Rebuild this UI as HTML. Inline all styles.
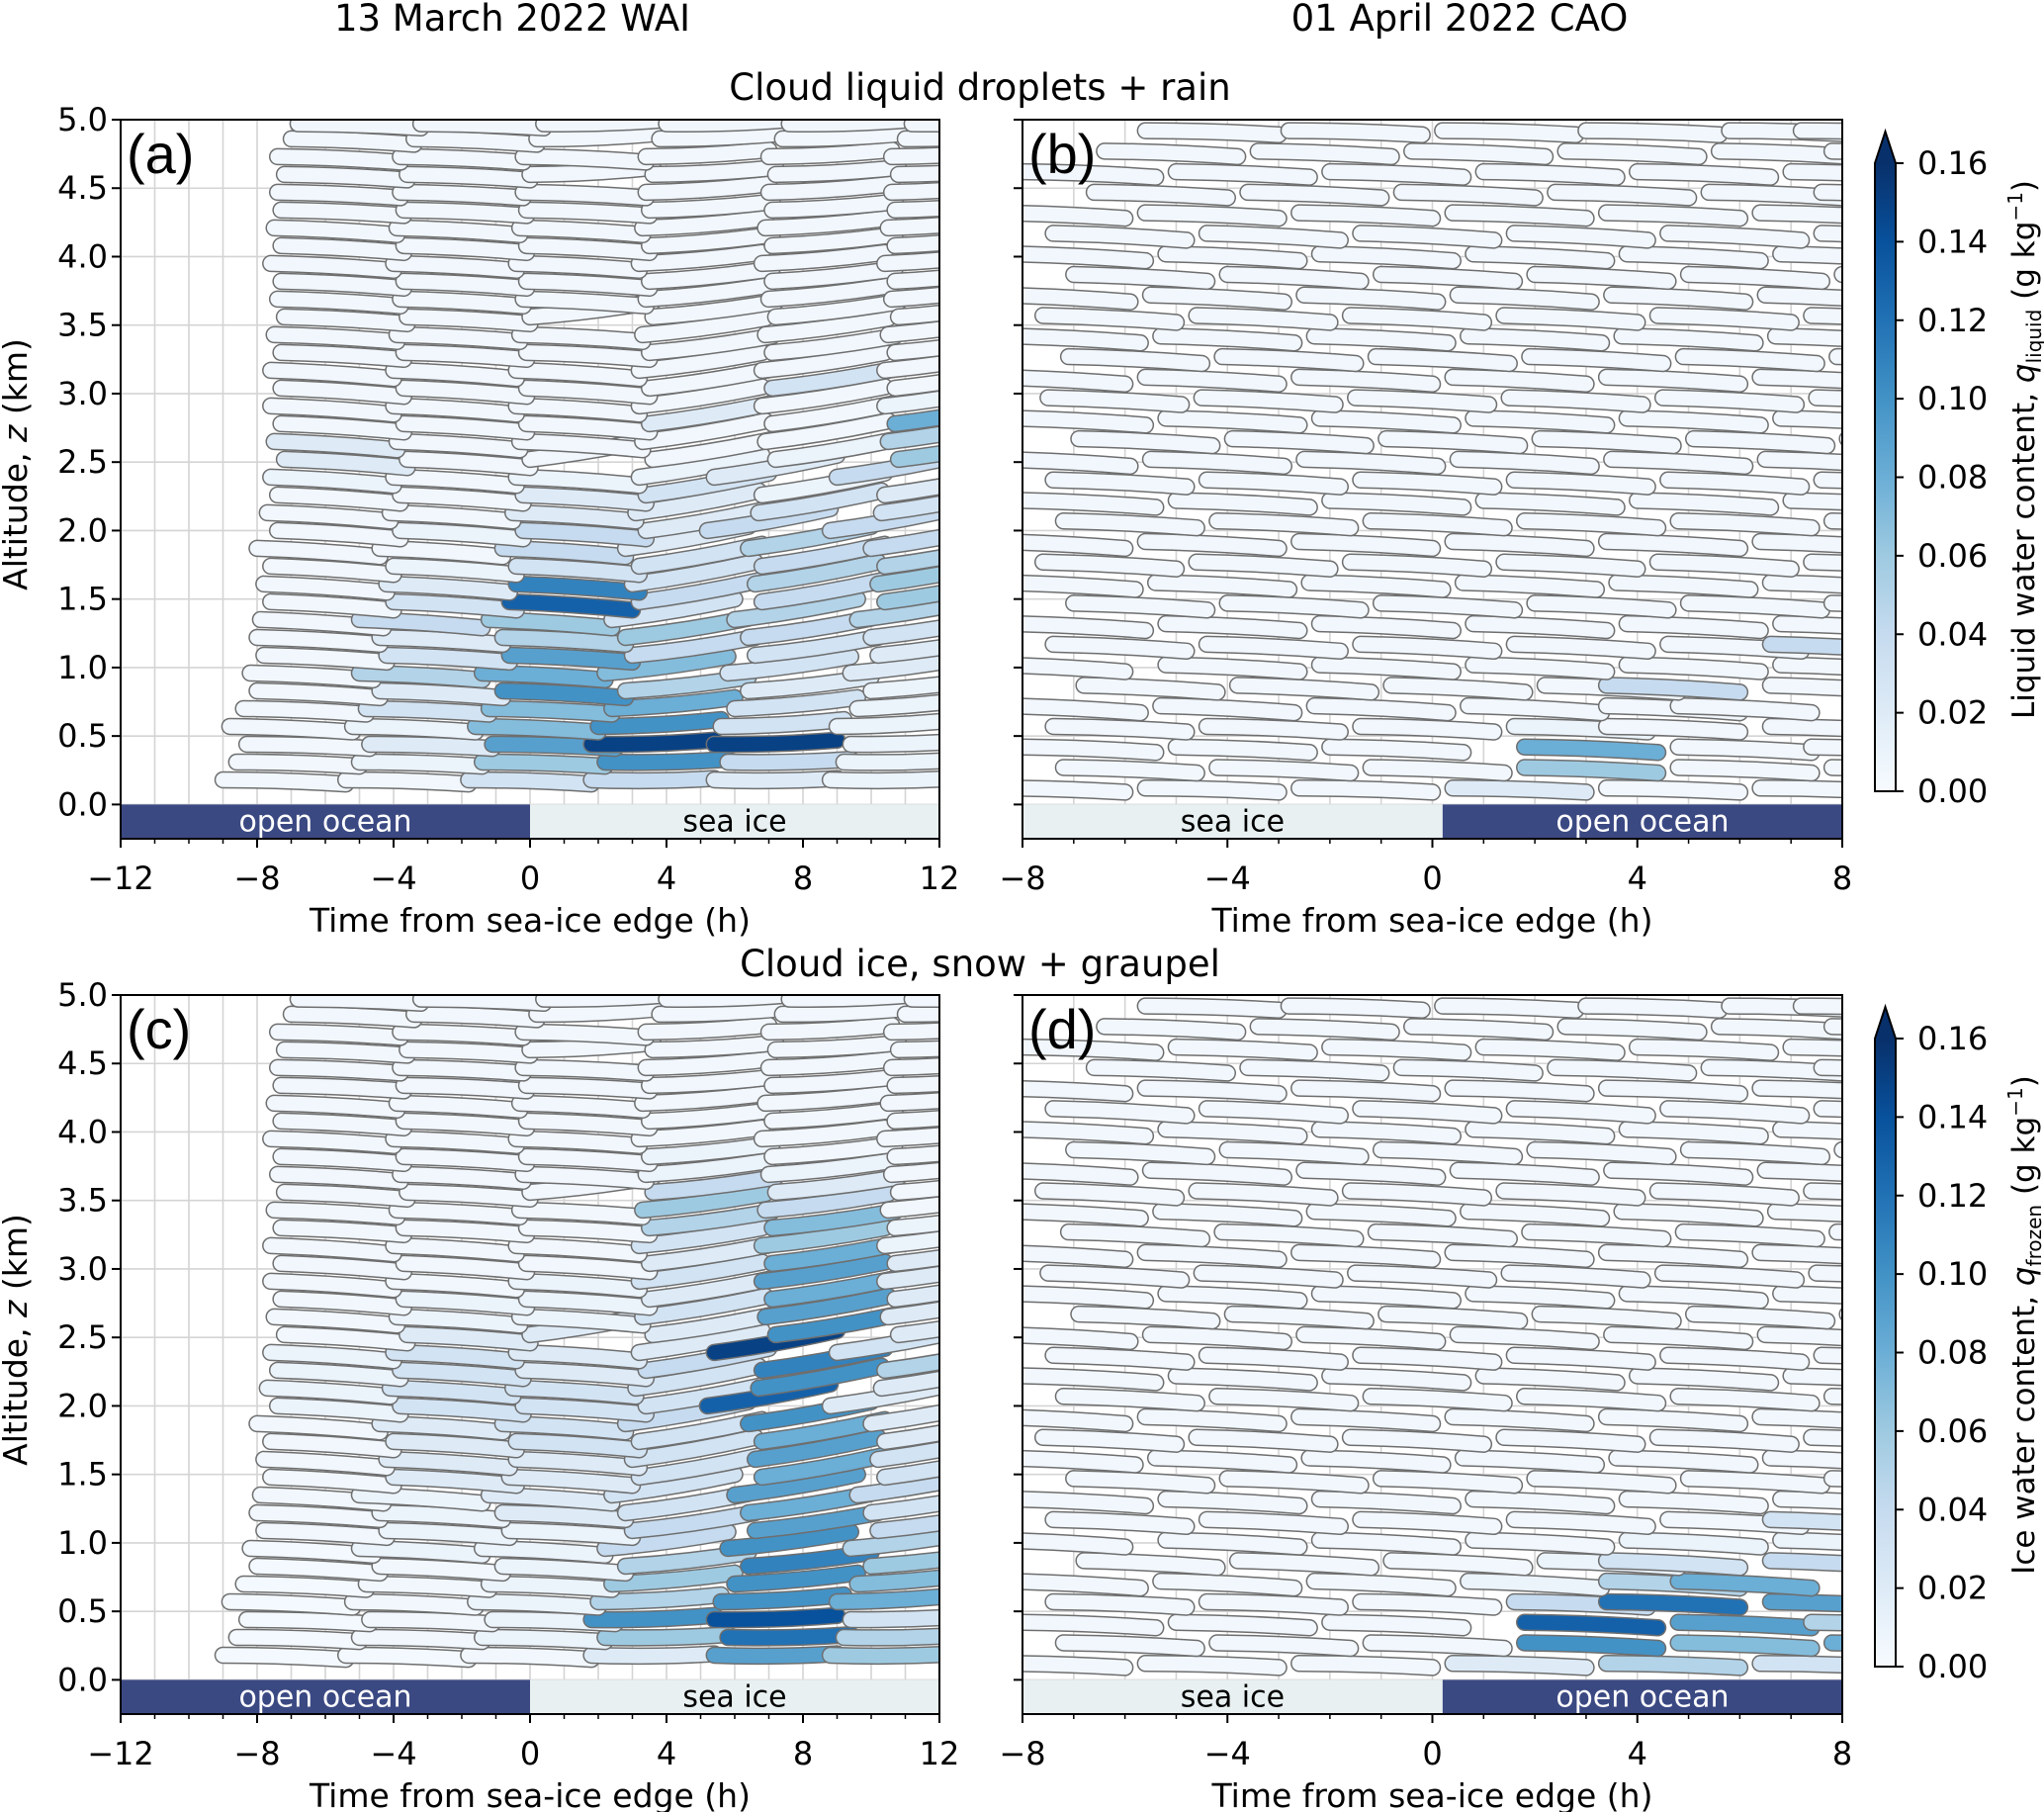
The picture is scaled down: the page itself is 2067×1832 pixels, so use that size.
<!DOCTYPE html>
<html><head><meta charset="utf-8">
<style>
html,body{margin:0;padding:0;background:#fff}
svg{display:block}
text{font-family:"DejaVu Sans","Liberation Sans",sans-serif;fill:#000}
</style></head>
<body>
<svg id="fig" width="2067" height="1832" viewBox="0 0 2067 1832" xmlns="http://www.w3.org/2000/svg">
<defs>
<linearGradient id="blues" x1="0" y1="1" x2="0" y2="0">
<stop offset="0" stop-color="#f7fbff"/><stop offset="0.125" stop-color="#deebf7"/><stop offset="0.25" stop-color="#c6dbef"/><stop offset="0.375" stop-color="#9ecae1"/><stop offset="0.5" stop-color="#6baed6"/><stop offset="0.625" stop-color="#4292c6"/><stop offset="0.75" stop-color="#2171b5"/><stop offset="0.875" stop-color="#08519c"/><stop offset="1" stop-color="#08306b"/>
</linearGradient>
</defs>
<text x="518" y="31" font-size="37" text-anchor="middle">13 March 2022 WAI</text>
<text x="1476" y="31" font-size="37" text-anchor="middle">01 April 2022 CAO</text>
<text x="991" y="101" font-size="37" text-anchor="middle">Cloud liquid droplets + rain</text>
<text x="991" y="987" font-size="37" text-anchor="middle">Cloud ice, snow + graupel</text>
<g id="panels"></g>
</svg>
<script>
// ---- WAI case (13 March 2022) trajectories: row altitudes (km), start times (h), values (g/kg)
const wRowZ = [0.18,0.31,0.44,0.57,0.70,0.83,0.96,1.09,1.22,1.35,1.48,1.61,1.74,1.87,2.00,2.13,2.26,2.39,2.52,2.65,2.78,2.91,3.04,3.17,3.30,3.43,3.56,3.69,3.82,3.95,4.08,4.21,4.34,4.47,4.60,4.73,4.86,4.97];
const wRowT = [
[-9.0,-5.4,-1.8,1.8,5.4,8.8],[-8.6,-5.0,-1.4,2.2,5.8,9.2],[-8.3,-4.7,-1.1,1.8,5.4,9.4],[-8.8,-5.2,-1.6,2.0,5.6,9.0],
[-8.4,-4.8,-1.2,2.4,6.0,9.6],[-8.0,-4.4,-0.8,2.8,6.4,10.0],[-8.2,-5.0,-1.4,2.2,5.8,9.4],[-7.8,-4.2,-0.6,3.0,6.6,10.2],
[-8.0,-4.4,-0.8,2.8,6.4,10.0],[-7.9,-5.0,-1.2,2.4,6.0,9.6],[-7.6,-4.0,-0.6,3.2,6.8,10.4],[-7.8,-4.2,-0.4,3.0,6.6,10.2],
[-7.6,-4.0,-0.4,3.2,6.8,10.4],[-8.0,-4.4,-0.8,2.8,6.4,10.0],[-7.4,-3.8,-0.2,3.4,5.2,8.8],[-7.7,-4.1,-0.5,3.1,6.7,10.3],
[-7.4,-3.8,-0.2,3.4,6.8,10.4],[-7.6,-4.0,-0.4,3.2,5.4,9.0],[-7.2,-3.6,0.0,3.6,7.2,10.8],[-7.5,-3.9,-0.3,3.3,6.9,10.5],
[-7.3,-3.7,-0.1,3.5,7.1,10.7],[-7.6,-4.0,-0.4,3.2,6.8,10.4],[-7.3,-3.7,-0.1,3.5,7.1,10.7],[-7.6,-4.0,-0.4,3.2,6.8,10.4],
[-7.3,-3.7,-0.1,3.5,7.1,10.7],[-7.5,-3.9,-0.3,3.3,6.9,10.5],[-7.2,-3.6,0.0,3.6,7.2,10.8],[-7.4,-3.8,-0.2,3.4,7.0,10.6],
[-7.3,-3.7,-0.1,3.5,7.1,10.7],[-7.6,-4.0,-0.4,3.2,6.8,10.4],[-7.3,-3.7,-0.1,3.5,7.1,10.7],[-7.5,-3.9,-0.3,3.3,6.9,10.5],
[-7.3,-3.7,-0.1,3.5,7.1,10.7],[-7.4,-3.8,-0.2,3.4,7.0,10.6],[-7.2,-3.6,0.0,3.6,7.2,10.8],[-7.4,-3.8,-0.2,3.4,7.0,10.6],
[-7.0,-3.4,0.2,3.8,7.4,11.0],[-6.8,-3.2,0.4,4.0,7.6,11.2]];
const wRowLiq = [
[.005,.005,.03,.04,.02,.01],[.005,.01,.06,.10,.04,.01],[.005,.02,.09,.15,.15,.01],[.005,.01,.07,.10,.03,.01],
[.005,.03,.07,.08,.03,.01],[.005,.02,.10,.05,.02,.01],[.005,.05,.08,.07,.03,.02],[.005,.03,.09,.04,.03,.02],
[.005,.02,.05,.06,.04,.03],[.005,.04,.06,.03,.05,.05],[.005,.03,.13,.04,.04,.06],[.005,.02,.11,.03,.05,.06],
[.005,.01,.03,.03,.04,.05],[.005,.005,.04,.02,.05,.04],[.005,.01,.04,.02,.04,.04],[.005,.005,.02,.02,.03,.03],
[.005,.005,.02,.03,.01,.02],[.01,.005,.01,.01,.02,.04],[.02,.005,.005,.005,.01,.06],[.02,.005,.005,.005,.005,.05],
[.005,.005,.005,.02,.005,.08],[.005,.005,.005,.005,.005,.01],[.005,.005,.005,.005,.03,.005],[.005,.005,.005,.005,.005,.005],
[.005,.005,.005,.005,.005,.005],[.005,.005,.005,.005,.005,.005],[.005,.005,.005,.005,.005,.005],[.005,.005,.005,.005,.005,.005],
[.005,.005,.005,.005,.005,.005],[.005,.005,.005,.005,.005,.005],[.005,.005,.005,.005,.005,.005],[.005,.005,.005,.005,.005,.005],
[.005,.005,.005,.005,.005,.005],[.005,.005,.005,.005,.005,.005],[.005,.005,.005,.005,.005,.005],[.005,.005,.005,.005,.005,.005],
[.005,.005,.005,.005,.005,.005],[.005,.005,.005,.005,.005,.005]];
const wRowIce = [
[.003,.003,.005,.02,.09,.06],[.003,.005,.01,.06,.12,.05],[.003,.005,.01,.10,.14,.03],[.003,.005,.01,.05,.10,.08],
[.003,.005,.01,.06,.10,.07],[.003,.005,.01,.05,.11,.06],[.003,.01,.01,.04,.10,.05],[.005,.01,.01,.04,.09,.04],
[.005,.01,.02,.03,.08,.03],[.005,.01,.02,.03,.09,.04],[.005,.02,.02,.03,.08,.03],[.005,.02,.02,.03,.09,.03],
[.005,.02,.03,.03,.08,.02],[.005,.02,.03,.04,.10,.02],[.01,.03,.03,.03,.13,.02],[.01,.03,.03,.03,.10,.02],
[.01,.03,.02,.04,.11,.05],[.01,.03,.02,.02,.15,.03],[.005,.02,.02,.02,.10,.02],[.005,.01,.01,.03,.09,.02],
[.005,.01,.01,.02,.08,.02],[.005,.005,.01,.03,.09,.02],[.005,.005,.005,.02,.08,.02],[.005,.005,.005,.03,.06,.01],
[.005,.005,.005,.05,.07,.01],[.005,.005,.005,.06,.04,.005],[.005,.005,.005,.04,.02,.005],[.005,.005,.005,.01,.01,.005],
[.005,.005,.005,.01,.005,.005],[.005,.005,.005,.005,.005,.005],[.005,.005,.005,.005,.005,.005],[.005,.005,.005,.005,.005,.005],
[.005,.005,.005,.005,.005,.005],[.005,.005,.005,.005,.005,.005],[.005,.005,.005,.005,.005,.005],[.005,.005,.005,.005,.005,.005],
[.005,.005,.005,.005,.005,.005],[.005,.005,.005,.005,.005,.005]];
const wRowDzLeft = [-.03,-.03,-.03,-.04,-.04,-.05,-.05,-.05,-.05,-.06,-.06,-.06,-.06,-.06,-.06,-.06,-.06,-.06,-.06,-.06,-.06,-.06,-.06,-.06,-.05,-.05,-.05,-.05,-.05,-.05,-.05,-.05,-.04,-.04,-.04,-.04,-.04,-.03];
const wRowDzRight = [.01,.02,.03,.05,.08,.10,.12,.13,.14,.15,.16,.16,.16,.16,.16,.16,.16,.16,.15,.15,.15,.14,.14,.13,.12,.12,.11,.10,.09,.08,.08,.07,.06,.06,.05,.05,.04,.03];
const wDur = 3.6;

// ---- CAO case (01 April 2022)
const cRowZ = [0.12,0.27,0.42,0.57,0.72,0.87,1.02,1.17,1.32,1.47,1.62,1.77,1.92,2.07,2.22,2.37,2.52,2.67,2.82,2.97,3.12,3.27,3.42,3.57,3.72,3.87,4.02,4.17,4.32,4.47,4.62,4.77,4.92];
const cRowT = [
[-8.6,-5.6,-2.6,0.4,3.4,6.4],[-7.2,-4.2,-1.2,1.8,4.8,7.8],[-8.0,-5.0,-2.0,1.8,4.8,7.4],[-7.4,-4.4,-1.4,1.6,3.4,6.6],
[-8.3,-5.3,-2.3,0.7,3.4,4.8],[-6.8,-3.8,-0.8,2.2,3.4,6.6],[-8.6,-5.2,-2.2,0.8,3.8,6.8],[-7.4,-4.4,-1.4,1.6,4.6,6.6],
[-8.2,-5.2,-2.2,0.8,3.8,6.8],[-7.0,-4.0,-1.0,2.0,5.0,7.8],[-8.4,-5.4,-2.4,0.6,3.6,6.6],[-7.6,-4.6,-1.6,1.4,4.4,7.4],
[-8.6,-5.6,-2.6,0.4,3.4,6.4],[-7.2,-4.2,-1.2,1.8,4.8,7.8],[-8.0,-5.0,-2.0,1.0,4.0,7.0],[-7.4,-4.4,-1.4,1.6,4.6,7.6],
[-8.5,-5.5,-2.5,0.5,3.5,6.5],[-6.9,-3.9,-0.9,2.1,5.1,8.1],[-8.2,-5.2,-2.2,0.8,3.8,6.8],[-7.5,-4.5,-1.5,1.5,4.5,7.5],
[-8.6,-5.6,-2.6,0.4,3.4,6.4],[-7.1,-4.1,-1.1,1.9,4.9,7.9],[-8.3,-5.3,-2.3,0.7,3.7,6.7],[-7.6,-4.6,-1.6,1.4,4.4,7.4],
[-8.5,-5.5,-2.5,0.5,3.5,6.5],[-7.0,-4.0,-1.0,2.0,5.0,8.0],[-8.2,-5.2,-2.2,0.8,3.8,6.8],[-7.4,-4.4,-1.4,1.6,4.6,7.6],
[-8.6,-5.6,-2.6,0.4,3.4,6.4],[-6.6,-3.6,-0.6,2.4,5.4,7.6],[-8.0,-5.0,-2.0,1.0,4.0,7.0],[-6.4,-3.4,-0.4,2.6,5.6,7.8],
[-5.6,-2.8,0.2,3.0,5.8,7.2]];
const cRowLiq = [
[.005,.005,.005,.02,.005,.005],[.005,.005,.005,.06,.005,.005],[.005,.005,.005,.08,.005,.005],[.005,.005,.005,.01,.005,.005],
[.005,.005,.005,.005,.005,.005],[.005,.005,.005,.005,.04,.005],[.005,.005,.005,.005,.005,.005],[.005,.005,.005,.005,.005,.04],
[.005,.005,.005,.005,.005,.005],[.005,.005,.005,.005,.005,.005],[.005,.005,.005,.005,.005,.005],[.005,.005,.005,.005,.005,.005],
[.005,.005,.005,.005,.005,.005],[.005,.005,.005,.005,.005,.005],[.005,.005,.005,.005,.005,.005],[.005,.005,.005,.005,.005,.005],
[.005,.005,.005,.005,.005,.005],[.005,.005,.005,.005,.005,.005],[.005,.005,.005,.005,.005,.005],[.005,.005,.005,.005,.005,.005],
[.005,.005,.005,.005,.005,.005],[.005,.005,.005,.005,.005,.005],[.005,.005,.005,.005,.005,.005],[.005,.005,.005,.005,.005,.005],
[.005,.005,.005,.005,.005,.005],[.005,.005,.005,.005,.005,.005],[.005,.005,.005,.005,.005,.005],[.005,.005,.005,.005,.005,.005],
[.005,.005,.005,.005,.005,.005],[.005,.005,.005,.005,.005,.005],[.005,.005,.005,.005,.005,.005],[.005,.005,.005,.005,.005,.005],
[.005,.005,.005,.005,.005,.005]];
const cRowIce = [
[.005,.005,.005,.02,.05,.03],[.005,.005,.005,.10,.07,.08],[.005,.005,.005,.13,.09,.05],[.005,.005,.005,.04,.12,.09],
[.005,.005,.005,.01,.05,.08],[.005,.005,.005,.01,.03,.04],[.005,.005,.005,.005,.01,.01],[.005,.005,.005,.005,.005,.03],
[.005,.005,.005,.005,.005,.005],[.005,.005,.005,.005,.005,.005],[.005,.005,.005,.005,.005,.005],[.005,.005,.005,.005,.005,.005],
[.005,.005,.005,.005,.005,.005],[.005,.005,.005,.005,.005,.005],[.005,.005,.005,.005,.005,.005],[.005,.005,.005,.005,.005,.005],
[.005,.005,.005,.005,.005,.005],[.005,.005,.005,.005,.005,.005],[.005,.005,.005,.005,.005,.005],[.005,.005,.005,.005,.005,.005],
[.005,.005,.005,.005,.005,.005],[.005,.005,.005,.005,.005,.005],[.005,.005,.005,.005,.005,.005],[.005,.005,.005,.005,.005,.005],
[.005,.005,.005,.005,.005,.005],[.005,.005,.005,.005,.005,.005],[.005,.005,.005,.005,.005,.005],[.005,.005,.005,.005,.005,.005],
[.005,.005,.005,.005,.005,.005],[.005,.005,.005,.005,.005,.005],[.005,.005,.005,.005,.005,.005],[.005,.005,.005,.005,.005,.005],
[.005,.005,.005,.005,.005,.005]];
const cRowDz = [-.03,-.04,-.04,-.04,-.05,-.05,-.05,-.05,-.05,-.05,-.05,-.05,-.05,-.05,-.05,-.05,-.05,-.05,-.05,-.05,-.05,-.05,-.05,-.05,-.05,-.05,-.05,-.05,-.04,-.04,-.04,-.04,-.03];
const cDur = 2.6;

const xTicksWAI = [-12,-8,-4,0,4,8,12];
const xTicksCAO = [-8,-4,0,4,8];
const yTicks = [0.0,0.5,1.0,1.5,2.0,2.5,3.0,3.5,4.0,4.5,5.0];
const cbTicks = [0.00,0.02,0.04,0.06,0.08,0.10,0.12,0.14,0.16];

const NS = "http://www.w3.org/2000/svg";
const blues = ["#f7fbff","#deebf7","#c6dbef","#9ecae1","#6baed6","#4292c6","#2171b5","#08519c","#08306b"];
function hex(c){return [parseInt(c.substr(1,2),16),parseInt(c.substr(3,2),16),parseInt(c.substr(5,2),16)];}
function cmap(v){
  let f=Math.max(0,Math.min(1,v/0.16))*8; let i=Math.min(7,Math.floor(f)); let r=f-i;
  const a=hex(blues[i]),b=hex(blues[i+1]);
  return "rgb("+a.map((x,k)=>Math.round(x+(b[k]-x)*r)).join(",")+")";
}
function el(tag,attrs,parent){const e=document.createElementNS(NS,tag);for(const k in attrs)e.setAttribute(k,attrs[k]);parent.appendChild(e);return e;}
const root=document.getElementById('panels');

function panel(o){
  const g=el('g',{},root);
  
  
  const L=o.x0,R=o.x1,T=o.top,B=o.top+727;
  const sx=t=>L+(t-o.tmin)/(o.tmax-o.tmin)*(R-L);
  const sy=z=>T+(5.0-z)/5.25*(B-T);
  const grid=el('g',{stroke:'#d4d4d4','stroke-width':1.6},g);
  
  
  for(let t=Math.ceil(o.tmin);t<=o.tmax;t++){el('line',{x1:sx(t),x2:sx(t),y1:T,y2:B},grid);}
  yTicks.forEach(z=>el('line',{x1:L,x2:R,y1:sy(z),y2:sy(z)},grid));
  const cid='clip-'+o.name;
  const cp=el('clipPath',{id:cid},g); el('rect',{x:L,y:T,width:R-L,height:B-T},cp);
  const tr=el('g',{'clip-path':'url(#'+cid+')'},g);
  
  
  o.rowZ.forEach((z,ri)=>{
    o.rowT[ri].forEach((t0,si)=>{
      const dz=o.dz(ri,t0);
      const x1=sx(t0),y1=sy(z),x2=sx(t0+o.dur),y2=sy(z+dz);
      const mx=(x1+x2)/2,my=(y1+y2)/2+ (dz>0?3:-2);
      const d='M'+x1+','+y1+' Q'+mx+','+my+' '+x2+','+y2;
      const seg=el('g',{},tr);
      
      
      el('path',{d:d,fill:'none',stroke:'#6e6e6e','stroke-width':17.5,'stroke-linecap':'round'},seg);
      el('path',{d:d,fill:'none',stroke:cmap(o.vals[ri][si]),'stroke-width':14.5,'stroke-linecap':'round'},seg);
    });
  });
  const y0=sy(0);
  const split=sx(o.split);
  const b1=el('rect',{x:L,y:y0,width:split-L,height:B-y0,fill:o.leftOcean?'#3b4983':'#e9f0f1'},g);
  
  
  const b2=el('rect',{x:split,y:y0,width:R-split,height:B-y0,fill:o.leftOcean?'#e9f0f1':'#3b4983'},g);
  
  
  const t1=el('text',{x:(L+split)/2,y:y0+27,'font-size':30,'text-anchor':'middle',style:'fill:'+(o.leftOcean?'#fff':'#000')},g);
  t1.textContent=o.leftOcean?'open ocean':'sea ice';
  
  
  const t2=el('text',{x:(split+R)/2,y:y0+27,'font-size':30,'text-anchor':'middle',style:'fill:'+(o.leftOcean?'#000':'#fff')},g);
  t2.textContent=o.leftOcean?'sea ice':'open ocean';
  
  
  const fr=el('rect',{x:L,y:T,width:R-L,height:B-T,fill:'none',stroke:'#000','stroke-width':2},g);
  
  
  for(let t=Math.ceil(o.tmin);t<=o.tmax;t++){
    const major=o.xticks.indexOf(t)>=0;
    el('line',{x1:sx(t),x2:sx(t),y1:B,y2:B+(major?9:5),stroke:'#000','stroke-width':major?2:1.5},g);
  }
  o.xticks.forEach(t=>{
    const tx=el('text',{x:sx(t),y:B+51,'font-size':32,'text-anchor':'middle'},g);
    tx.textContent=(t<0?'\u2212'+(-t):String(t));
    
    
  });
  const xl=el('text',{x:(L+R)/2,y:B+94,'font-size':33,'text-anchor':'middle'},g);
  xl.textContent='Time from sea-ice edge (h)';
  
  
  yTicks.forEach(z=>{
    el('line',{x1:L-9,x2:L,y1:sy(z),y2:sy(z),stroke:'#000','stroke-width':2},g);
    if(o.ylabels){
      const ty=el('text',{x:L-13,y:sy(z)+11,'font-size':32,'text-anchor':'end'},g);
      ty.textContent=z.toFixed(1);
      
      
    }
  });
  if(o.ylabels){
    const yl=el('text',{x:0,y:0,'font-size':33,'text-anchor':'middle',transform:'translate(27,'+((T+B)/2-15)+') rotate(-90)'},g);
    yl.innerHTML='Altitude, <tspan font-style="italic">z</tspan> (km)';
    
    
  }
  const pl=el('text',{x:L+6,y:T+54,'font-size':56,style:'font-family:"Liberation Sans",sans-serif'},g);
  pl.textContent=o.label;
  
  
}

function colorbar(top,lab,sub){
  const g=el('g',{},root);
  
  
  const X=1896,W=21,T=top,B=top+635;
  const cy=v=>B-(v/0.16)*(B-T);
  el('rect',{x:X,y:T,width:W,height:B-T,fill:'url(#blues)'},g);
  el('polygon',{points:X+','+T+' '+(X+W)+','+T+' '+(X+W/2)+','+(T-32),fill:'#08306b'},g);
  el('polygon',{points:X+','+B+' '+X+','+T+' '+(X+W/2)+','+(T-32)+' '+(X+W)+','+T+' '+(X+W)+','+B,fill:'none',stroke:'#000','stroke-width':2},g);
  cbTicks.forEach(v=>{
    el('line',{x1:X+W,x2:X+W+8,y1:cy(v),y2:cy(v),stroke:'#000','stroke-width':2},g);
    const t=el('text',{x:X+W+22,y:cy(v)+11,'font-size':32},g);
    t.textContent=v.toFixed(2);
    
    
  });
  const l=el('text',{x:0,y:0,'font-size':31,'text-anchor':'middle',transform:'translate(2057,'+((T+B)/2-28)+') rotate(-90)'},g);
  l.innerHTML=lab+', <tspan font-style="italic">q</tspan><tspan font-size="20" dy="7">'+sub+'</tspan><tspan dy="-7"> (g kg</tspan><tspan font-size="20" dy="-12">\u22121</tspan><tspan dy="12">)</tspan>';
  
  
}

const wDz=(ri,t0)=>t0<0?wRowDzLeft[ri]:wRowDzRight[ri];
const cDz=(ri,t0)=>cRowDz[ri];
panel({name:'panel-a',label:'(a)',x0:122,x1:950,top:121,tmin:-12,tmax:12,split:0,leftOcean:true,xticks:xTicksWAI,ylabels:true,rowZ:wRowZ,rowT:wRowT,vals:wRowLiq,dz:wDz,dur:wDur});
panel({name:'panel-b',label:'(b)',x0:1034,x1:1863,top:121,tmin:-8,tmax:8,split:0.2,leftOcean:false,xticks:xTicksCAO,ylabels:false,rowZ:cRowZ,rowT:cRowT,vals:cRowLiq,dz:cDz,dur:cDur});
panel({name:'panel-c',label:'(c)',x0:122,x1:950,top:1006,tmin:-12,tmax:12,split:0,leftOcean:true,xticks:xTicksWAI,ylabels:true,rowZ:wRowZ,rowT:wRowT,vals:wRowIce,dz:wDz,dur:wDur});
panel({name:'panel-d',label:'(d)',x0:1034,x1:1863,top:1006,tmin:-8,tmax:8,split:0.2,leftOcean:false,xticks:xTicksCAO,ylabels:false,rowZ:cRowZ,rowT:cRowT,vals:cRowIce,dz:cDz,dur:cDur});
colorbar(165,'Liquid water content','liquid');
colorbar(1050,'Ice water content','frozen');
</script>
</body></html>
